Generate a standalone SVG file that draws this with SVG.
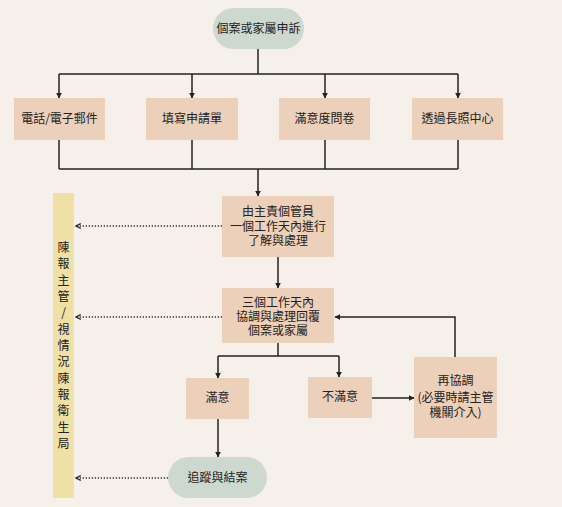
<svg xmlns="http://www.w3.org/2000/svg" width="562" height="507" viewBox="0 0 562 507">
<defs>
<style>
.bg{fill:#f5f0ea}
.box{fill:#edd0b9}
.pill{fill:#cdd8cf}
.bar{fill:#efe0a5}
text{font-family:"Noto Sans CJK TC","Noto Sans CJK SC",sans-serif;font-size:12px;fill:#222;text-anchor:middle}
.ln{stroke:#222;stroke-width:1.5;fill:none}
.dot{stroke:#333;stroke-width:1.3;stroke-dasharray:1.3 1.7;fill:none}
</style>
<marker id="ah" viewBox="0 0 10 10" refX="9" refY="5" markerWidth="6" markerHeight="6" markerUnits="userSpaceOnUse" orient="auto">
<path d="M0,0 L10,5 L0,10 z" fill="#222"/>
</marker>
<marker id="oh" viewBox="0 0 10 10" refX="9" refY="5" markerWidth="6" markerHeight="6" markerUnits="userSpaceOnUse" orient="auto">
<path d="M1,1 L9,5 L1,9" fill="none" stroke="#222" stroke-width="2"/>
</marker>
</defs>
<rect class="bg" x="0" y="0" width="562" height="507"/>

<g id="connectors">
<path class="ln" d="M258,49 V74"/>
<path class="ln" d="M59,74 H458"/>
<path class="ln" d="M59,74 V98" marker-end="url(#ah)"/>
<path class="ln" d="M192,74 V98" marker-end="url(#ah)"/>
<path class="ln" d="M325,74 V98" marker-end="url(#ah)"/>
<path class="ln" d="M458,74 V98" marker-end="url(#ah)"/>
<path class="ln" d="M59,140 V169 M192,140 V169 M325,140 V169 M458,140 V169"/>
<path class="ln" d="M59,169 H458"/>
<path class="ln" d="M258,169 V196" marker-end="url(#ah)"/>
<path class="ln" d="M278,257 V288" marker-end="url(#ah)"/>
<path class="ln" d="M278,343 V356 M218,356 H339"/>
<path class="ln" d="M218,356 V378" marker-end="url(#ah)"/>
<path class="ln" d="M339,356 V377" marker-end="url(#ah)"/>
<path class="ln" d="M372,398 H414" marker-end="url(#ah)"/>
<path class="ln" d="M455,357 V317 H335" marker-end="url(#ah)"/>
<path class="ln" d="M218,419 V457" marker-end="url(#ah)"/>
<path class="dot" d="M222,226 H76" marker-end="url(#oh)"/>
<path class="dot" d="M222,317 H76" marker-end="url(#oh)"/>
<path class="dot" d="M168,478 H76" marker-end="url(#oh)"/>
</g>

<g id="start">
<rect class="pill" x="213" y="8" width="91" height="41" rx="20.5"/>
<text x="258.5" y="33">個案或家屬申訴</text>
</g>
<g id="phone">
<rect class="box" x="14" y="98" width="91" height="42"/>
<text x="59.5" y="123">電話/電子郵件</text>
</g>
<g id="form">
<rect class="box" x="146" y="98" width="92" height="42"/>
<text x="192" y="123">填寫申請單</text>
</g>
<g id="survey">
<rect class="box" x="279" y="98" width="91" height="42"/>
<text x="324.5" y="123">滿意度問卷</text>
</g>
<g id="center">
<rect class="box" x="412" y="98" width="91" height="42"/>
<text x="457.5" y="123">透過長照中心</text>
</g>
<g id="handle">
<rect class="box" x="222" y="196" width="112" height="61"/>
<text x="278" y="216">由主責個管員</text>
<text x="278" y="231">一個工作天內進行</text>
<text x="278" y="245">了解與處理</text>
</g>
<g id="reply">
<rect class="box" x="222" y="288" width="112" height="55"/>
<text x="278" y="307">三個工作天內</text>
<text x="278" y="321">協調與處理回覆</text>
<text x="278" y="335">個案或家屬</text>
</g>
<g id="satisfied">
<rect class="box" x="186" y="378" width="63" height="41"/>
<text x="217.5" y="402">滿意</text>
</g>
<g id="unsatisfied">
<rect class="box" x="308" y="377" width="64" height="41"/>
<text x="340" y="401">不滿意</text>
</g>
<g id="recoord">
<rect class="box" x="414" y="357" width="83" height="81"/>
<text x="455.5" y="385">再協調</text>
<text x="455.5" y="402">(必要時請主管</text>
<text x="455.5" y="417">機關介入)</text>
</g>
<g id="close">
<rect class="pill" x="168" y="457" width="99" height="41" rx="20.5"/>
<text x="217.5" y="482">追蹤與結案</text>
</g>
<g id="report">
<rect class="bar" x="53" y="193" width="21" height="305"/>
<text x="63.5" y="252">陳<tspan x="63.5" dy="16.33">報</tspan><tspan x="63.5" dy="16.33">主</tspan><tspan x="63.5" dy="16.33">管</tspan><tspan x="63.5" dy="16.33">/</tspan><tspan x="63.5" dy="16.33">視</tspan><tspan x="63.5" dy="16.33">情</tspan><tspan x="63.5" dy="16.33">況</tspan><tspan x="63.5" dy="16.33">陳</tspan><tspan x="63.5" dy="16.33">報</tspan><tspan x="63.5" dy="16.33">衛</tspan><tspan x="63.5" dy="16.33">生</tspan><tspan x="63.5" dy="16.33">局</tspan></text>
</g>
</svg>
